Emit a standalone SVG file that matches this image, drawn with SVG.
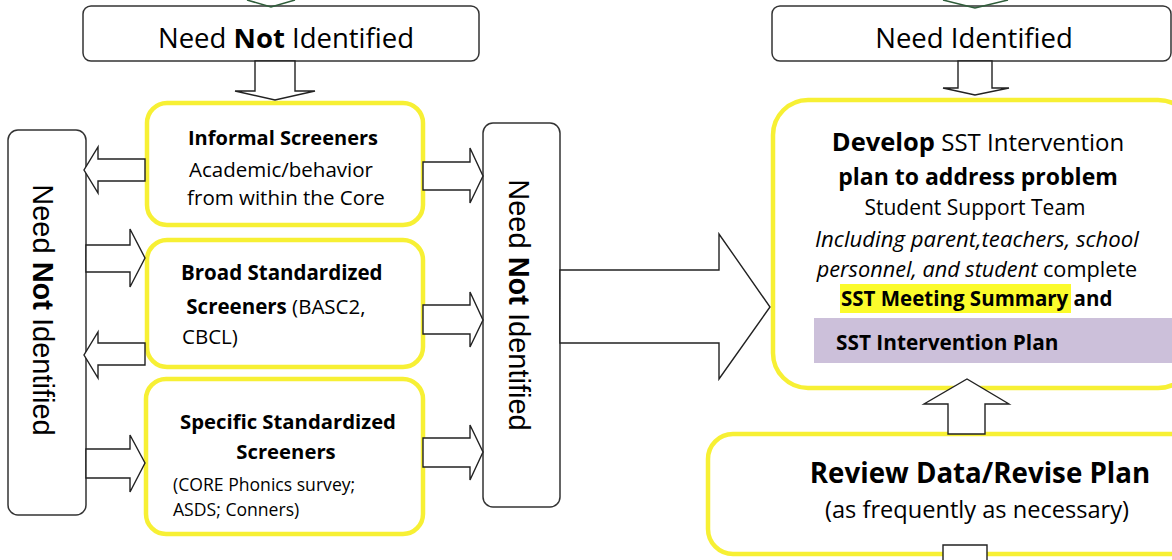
<svg xmlns="http://www.w3.org/2000/svg" width="1172" height="560" viewBox="0 0 1172 560">
<style>
.bx{fill:#fff;stroke:#333;stroke-width:1.5}
.yb{fill:#fff;stroke:#f7f034;stroke-width:4.5}
.ar{fill:#fff;stroke:#222;stroke-width:1.4;stroke-linejoin:miter}
.gr{fill:none;stroke:#2f5d3a;stroke-width:1.5}
.c{font-family:"Open Sans",Lato,sans-serif;fill:#000}
.a{font-family:"Liberation Sans",Arial,sans-serif;fill:#000}
.b{font-weight:bold}
</style>
<rect width="1172" height="560" fill="#fff"/>
<g id="need-not-identified-top">
<rect class="bx" x="83" y="6" width="396" height="55" rx="8"/>
<text class="c" x="286" y="48" font-size="27.5" text-anchor="middle">Need <tspan class="b">Not</tspan> Identified</text>
</g>
<g id="need-identified-top">
<rect class="bx" x="772" y="6" width="399" height="55" rx="8"/>
<text class="c" x="974" y="48" font-size="27.5" text-anchor="middle">Need Identified</text>
</g>
<g id="need-not-left">
<rect class="bx" x="8" y="130" width="78" height="385" rx="10"/>
<text class="a" transform="translate(43,310) rotate(90)" x="0" y="10" font-size="29" text-anchor="middle">Need <tspan class="b">Not</tspan> Identified</text>
</g>
<g id="need-not-right">
<rect class="bx" x="483" y="123" width="77" height="384" rx="10"/>
<text class="a" transform="translate(519,305) rotate(90)" x="0" y="10" font-size="29" text-anchor="middle">Need <tspan class="b">Not</tspan> Identified</text>
</g>
<g id="informal">
<rect class="yb" x="147" y="103" width="276" height="122" rx="20"/>
<text class="c" font-size="20.5" text-anchor="middle"><tspan class="b" x="283" y="145" font-size="20">Informal Screeners</tspan><tspan x="281" y="177">Academic/behavior</tspan><tspan x="286" y="205">from within the Core</tspan></text>
</g>
<g id="broad">
<rect class="yb" x="147" y="240" width="276" height="127" rx="20"/>
<text class="c" font-size="20.5"><tspan class="b" x="181" y="280">Broad Standardized</tspan><tspan x="181" y="314"><tspan class="b"> Screeners</tspan> (BASC2,</tspan><tspan x="182" y="344">CBCL)</tspan></text>
</g>
<g id="specific">
<rect class="yb" x="146" y="379" width="277" height="155" rx="20"/>
<text class="c" font-size="20.3"><tspan class="b" x="288" y="429" text-anchor="middle">Specific Standardized</tspan><tspan class="b" x="286" y="459" text-anchor="middle">Screeners</tspan></text>
<text class="c" font-size="17.6"><tspan x="173" y="491">(CORE Phonics survey;</tspan><tspan x="173" y="516">ASDS; Conners)</tspan></text>
</g>
<g id="develop">
<rect class="yb" x="773" y="100" width="420" height="288" rx="35"/>
<rect x="840" y="284" width="231" height="29" fill="#fbfb2c"/>
<rect x="814" y="318" width="360" height="45" fill="#ccc0da"/>
<text class="c" font-size="24" text-anchor="middle"><tspan x="978" y="151"><tspan class="b" font-size="25.5">Develop</tspan> SST Intervention</tspan><tspan class="b" x="978" y="185" font-size="23">plan to address problem</tspan></text>
<text class="c" font-size="21" text-anchor="middle"><tspan x="975" y="215">Student Support Team</tspan><tspan x="977" y="247" font-size="22.2"><tspan font-style="italic">Including parent,teachers, school</tspan></tspan><tspan x="977" y="277" font-size="21.7"><tspan font-style="italic">personnel, and student</tspan> complete</tspan></text>
<text class="c b" font-size="20.5" x="841" y="306">SST Meeting Summary and</text>
<text class="c b" font-size="20.8" x="836" y="350">SST Intervention Plan</text>
</g>
<g id="review">
<rect class="yb" x="708" y="434" width="490" height="120" rx="25"/>
<text class="c b" font-size="27.7" x="980" y="483" text-anchor="middle">Review Data/Revise Plan</text>
<text class="c" font-size="23.6" x="977" y="518" text-anchor="middle">(as frequently as necessary)</text>
</g>
<g id="connectors">
<polyline class="gr" points="247,0 271,7 295,0"/>
<polyline class="gr" points="943,0 975,8 1008,0"/>
<polygon class="ar" points="255,61 295,61 295,91 315,91 275,100 235,91 255,91"/>
<polygon class="ar" points="958,61 992,61 992,88 1009,88 975,95 943,88 958,88"/>
<polygon class="ar" points="145,159 98,159 98,147 84,170 98,193 98,181 145,181"/>
<polygon class="ar" points="423,162 470,162 470,148 483,176 470,203 470,190 423,190"/>
<polygon class="ar" points="86,245 130,245 130,229 145,258 130,287 130,272 86,272"/>
<polygon class="ar" points="145,343 98,343 98,332 84,355 98,378 98,365 145,365"/>
<polygon class="ar" points="423,305 470,305 470,292 483,320 470,347 470,334 423,334"/>
<polygon class="ar" points="86,449 130,449 130,435 145,463 130,492 130,478 86,478"/>
<polygon class="ar" points="423,438 470,438 470,425 483,452 470,480 470,467 423,467"/>
<polygon class="ar" points="560,270 719,270 719,234 770,307 719,379 719,343 560,343"/>
<polygon class="ar" points="948,434 948,404 924,404 967,379 1009,404 985,404 985,434"/>
<polygon class="ar" points="943,562 943,545 987,545 987,562"/>
</g>
</svg>
